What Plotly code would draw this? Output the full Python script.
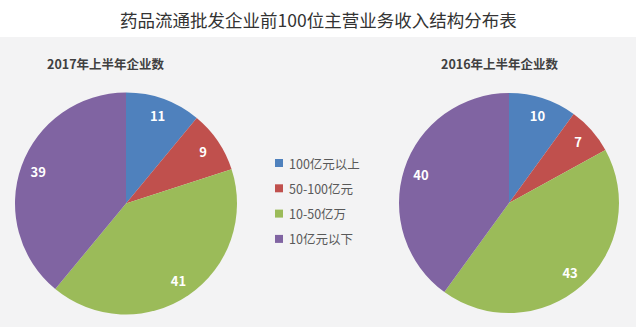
import plotly.graph_objects as go

# Revenue bands of the top-100 wholesalers
categories = ["100亿元以上", "50-100亿元", "10-50亿万", "10亿元以下"]
counts_2017 = [11, 9, 41, 39]
counts_2016 = [10, 7, 43, 40]
colors = ["#4F81BD", "#C0504D", "#9BBB59", "#8064A2"]

title_text = "药品流通批发企业前100位主营业务收入结构分布表"
subtitle_2017 = "2017年上半年企业数"
subtitle_2016 = "2016年上半年企业数"

W, H = 636, 327
FONT = "Noto Sans CJK SC"


def px_x(x):
    return x / W


def px_y(y):
    return 1 - y / H


def pie_traces(values, x0, x1, y0, y1):
    domain = dict(x=[px_x(x0), px_x(x1)], y=[px_y(y1), px_y(y0)])
    # filled slices
    body = go.Pie(
        labels=categories, values=values, sort=False, direction="clockwise",
        rotation=0, marker=dict(colors=colors, line=dict(width=0)),
        textinfo="none", hoverinfo="label+value", showlegend=False, domain=domain,
    )
    # transparent ring on top so the value labels sit near the rim
    ring = go.Pie(
        labels=categories, values=values, sort=False, direction="clockwise",
        rotation=0, hole=0.68,
        marker=dict(colors=["rgba(0,0,0,0)"] * len(values), line=dict(width=0)),
        textinfo="value", textposition="inside", insidetextorientation="horizontal",
        textfont=dict(family=FONT, size=13, color="white", weight="bold"),
        hoverinfo="skip", showlegend=False, domain=domain,
    )
    return [body, ring]


fig = go.Figure()
for tr in pie_traces(counts_2017, 15, 237, 92.5, 314.5):
    fig.add_trace(tr)
for tr in pie_traces(counts_2016, 399, 619, 93, 313):
    fig.add_trace(tr)

shapes = [
    # white heading band over the light background
    dict(type="rect", xref="paper", yref="paper", x0=0, x1=1, y0=px_y(37), y1=1,
         fillcolor="white", line=dict(width=0), layer="below"),
]
annotations = [
    dict(text=title_text, x=0.5, y=px_y(19), xref="paper", yref="paper",
         showarrow=False, xanchor="center", yanchor="middle",
         font=dict(family=FONT, size=17.5, color="#333333")),
    dict(text=subtitle_2017, x=px_x(106), y=px_y(64), xref="paper", yref="paper",
         showarrow=False, xanchor="center", yanchor="middle",
         font=dict(family=FONT, size=12.5, color="#404040", weight="bold")),
    dict(text=subtitle_2016, x=px_x(500), y=px_y(64), xref="paper", yref="paper",
         showarrow=False, xanchor="center", yanchor="middle",
         font=dict(family=FONT, size=12.5, color="#404040", weight="bold")),
]

# legend: coloured square and label per category
legend_top, legend_step = 163, 25.3
for i, (name, col) in enumerate(zip(categories, colors)):
    yc = legend_top + i * legend_step
    shapes.append(dict(type="rect", xref="paper", yref="paper",
                       x0=px_x(275), x1=px_x(283), y0=px_y(yc + 4), y1=px_y(yc - 4),
                       fillcolor=col, line=dict(width=0)))
    annotations.append(dict(text=name, x=px_x(287), y=px_y(yc), xref="paper", yref="paper",
                            showarrow=False, xanchor="left", yanchor="middle",
                            font=dict(family=FONT, size=12.5, color="#595959")))

fig.update_layout(
    width=W, height=H,
    margin=dict(l=0, r=0, t=0, b=0),
    paper_bgcolor="#f3f3f4",
    plot_bgcolor="#f3f3f4",
    shapes=shapes,
    annotations=annotations,
)

fig.write_html("out.html")
